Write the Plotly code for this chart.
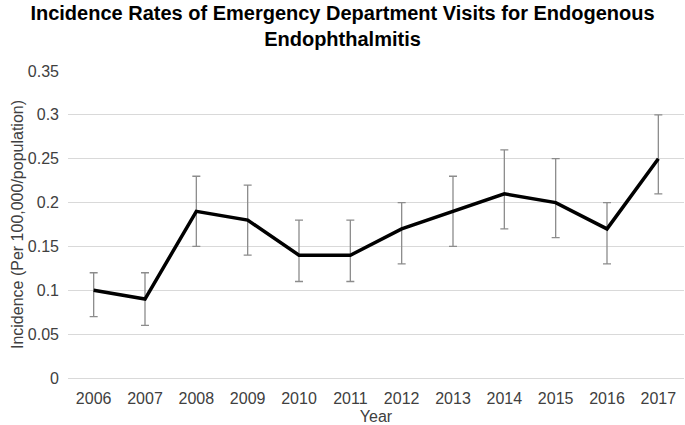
import plotly.graph_objects as go

years = ["2006", "2007", "2008", "2009", "2010", "2011",
         "2012", "2013", "2014", "2015", "2016", "2017"]
incidence = [0.10, 0.09, 0.19, 0.18, 0.14, 0.14, 0.17, 0.19, 0.21, 0.20, 0.17, 0.25]
ci_upper = [0.12, 0.12, 0.23, 0.22, 0.18, 0.18, 0.20, 0.23, 0.26, 0.25, 0.20, 0.30]
ci_lower = [0.07, 0.06, 0.15, 0.14, 0.11, 0.11, 0.13, 0.15, 0.17, 0.16, 0.13, 0.21]

err_plus = [u - v for u, v in zip(ci_upper, incidence)]
err_minus = [v - l for v, l in zip(incidence, ci_lower)]

fig = go.Figure()
fig.add_trace(go.Scatter(
    x=years,
    y=incidence,
    mode="lines",
    line=dict(color="black", width=3.5),
    error_y=dict(type="data", symmetric=False, array=err_plus, arrayminus=err_minus,
                 color="#8c8c8c", thickness=1.3, width=4),
    showlegend=False,
))

font = "Liberation Sans, Arial, sans-serif"
fig.update_layout(
    width=685, height=425,
    margin=dict(l=68, r=1, t=71, b=47),
    paper_bgcolor="white", plot_bgcolor="white",
    font=dict(family=font, color="#404040", size=16),
    title=dict(text="<b>Incidence Rates of Emergency Department Visits for Endogenous<br>Endophthalmitis</b>",
               x=0.5, xanchor="center", yref="container", y=0.953, yanchor="middle",
               font=dict(family=font, size=20, color="black")),
    xaxis=dict(title=dict(text="Year", standoff=4, font=dict(size=16, color="#404040")),
               automargin=False, range=[-0.5, len(years) - 0.5],
               showgrid=False, showline=False, ticks="", ticklabelstandoff=9,
               tickfont=dict(size=16, color="#404040")),
    yaxis=dict(title=dict(text="Incidence (Per 100,000/population)", standoff=0,
                          font=dict(size=16, color="#404040")),
               automargin=False,
               range=[0, 0.35], dtick=0.05, tickformat="~g",
               showgrid=True, gridcolor="#d9d9d9", gridwidth=1,
               zeroline=True, zerolinecolor="#d9d9d9", zerolinewidth=1,
               ticks="", ticklabelstandoff=8, tickfont=dict(size=16, color="#404040")),
)

# the page body has a default margin; drop it so the figure sits at the window corner
fig.write_html("out.html", config={"displayModeBar": False},
               post_script="document.body.style.margin='0';document.body.style.overflow='hidden';")
